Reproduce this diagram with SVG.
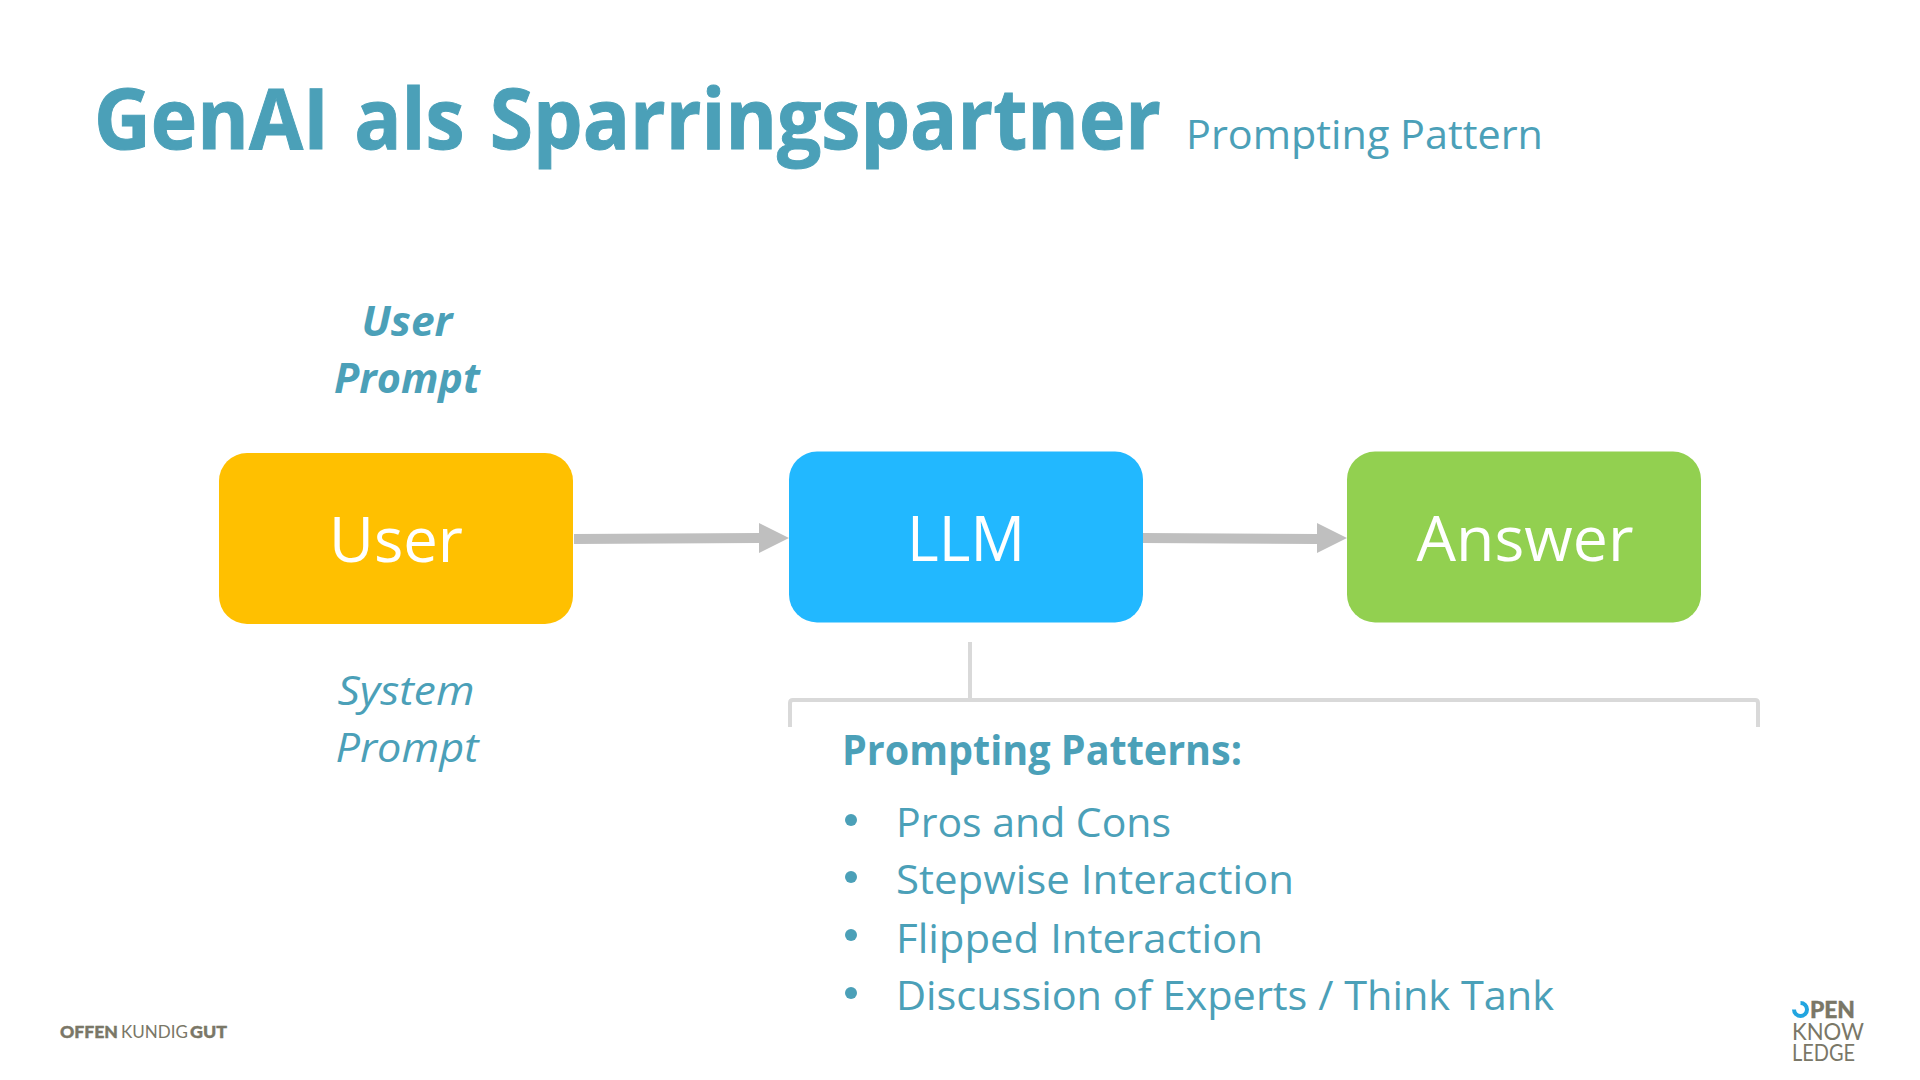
<svg xmlns="http://www.w3.org/2000/svg" width="1920" height="1080" viewBox="0 0 1920 1080">
<style>
text{font-family:"Open Sans",Lato,sans-serif;fill:#4BA0B8;font-variant-ligatures:none}
.box{font-size:63px;fill:#fff;text-anchor:middle}
.side{font-size:41px;font-style:italic;text-anchor:middle}
.list{font-size:41px}
.logo{font-family:Lato,sans-serif;fill:#7a7767}
.arrow{fill:#BFBFBF}
.br{fill:none;stroke:#D9D9D9;stroke-width:4}
</style>
<rect width="1920" height="1080" fill="#fff"/>
<g id="title">
<text x="94" y="149" font-size="84" font-weight="700" stroke="#4BA0B8" stroke-width="1" word-spacing="5" textLength="1067" lengthAdjust="spacingAndGlyphs">GenAI als Sparringspartner</text>
<text x="1186" y="149" font-size="41" textLength="357" lengthAdjust="spacingAndGlyphs">Prompting Pattern</text>
</g>
<g id="connectors">
<path class="arrow" d="M574 534L759 533V523L789 538L759 553V543L574 544Z"/>
<path class="arrow" d="M1143 533L1317 534V523L1347 538L1317 553V544L1143 543Z"/>
<path class="br" d="M970 642V700"/>
<path class="br" d="M790 727V703Q790 700 793 700H1755Q1758 700 1758 703V727"/>
</g>
<g id="node-user"><rect x="219" y="453" width="354" height="171" rx="28" fill="#FFC000"/><text class="box" x="396" y="562" textLength="134" lengthAdjust="spacingAndGlyphs">User</text></g>
<g id="node-llm"><rect x="789" y="451.5" width="354" height="171" rx="28" fill="#22B8FF"/><text class="box" x="966" y="561" textLength="118" lengthAdjust="spacingAndGlyphs">LLM</text></g>
<g id="node-answer"><rect x="1347" y="451.5" width="354" height="171" rx="28" fill="#92D050"/><text class="box" x="1525" y="561" textLength="217" lengthAdjust="spacingAndGlyphs">Answer</text></g>
<g id="label-user-prompt">
<text class="side" x="407" y="336" font-weight="700" textLength="91" lengthAdjust="spacingAndGlyphs">User</text>
<text class="side" x="407" y="393" font-weight="700" textLength="146" lengthAdjust="spacingAndGlyphs">Prompt</text>
</g>
<g id="label-system-prompt">
<text class="side" x="406" y="705" textLength="137" lengthAdjust="spacingAndGlyphs">System</text>
<text class="side" x="407" y="762" textLength="143" lengthAdjust="spacingAndGlyphs">Prompt</text>
</g>
<g id="patterns">
<text x="842" y="765" font-size="41" font-weight="700" textLength="400" lengthAdjust="spacingAndGlyphs">Prompting Patterns:</text>
<circle cx="851" cy="820" r="6" fill="#4BA0B8"/><circle cx="851" cy="877" r="6" fill="#4BA0B8"/><circle cx="851" cy="935" r="6" fill="#4BA0B8"/><circle cx="851" cy="993" r="6" fill="#4BA0B8"/>
<text class="list" x="896" y="837" textLength="275" lengthAdjust="spacingAndGlyphs">Pros and Cons</text>
<text class="list" x="896" y="894" textLength="398" lengthAdjust="spacingAndGlyphs">Stepwise Interaction</text>
<text class="list" x="896" y="953" textLength="367" lengthAdjust="spacingAndGlyphs">Flipped Interaction</text>
<text class="list" x="896" y="1010" textLength="658" lengthAdjust="spacingAndGlyphs">Discussion of Experts / Think Tank</text>
</g>
<g id="logo-left">
<text class="logo" x="60" y="1038" font-size="17.5" font-weight="900" stroke="#7a7767" stroke-width="0.4" textLength="58" lengthAdjust="spacingAndGlyphs">OFFEN</text>
<text class="logo" x="121" y="1038" font-size="17.5" font-weight="400" textLength="67" lengthAdjust="spacingAndGlyphs">KUNDIG</text>
<text class="logo" x="190" y="1038" font-size="17.5" font-weight="900" stroke="#7a7767" stroke-width="0.4" textLength="37" lengthAdjust="spacingAndGlyphs">GUT</text>
</g>
<g id="logo-right">
<path d="M1800.5 1003A6.5 6.5 0 1 1 1794 1009.5" fill="none" stroke="#22A5E0" stroke-width="4"/>
<text class="logo" x="1810" y="1018" font-size="22.5" font-weight="900" stroke="#7a7767" stroke-width="0.4" textLength="45" lengthAdjust="spacingAndGlyphs">PEN</text>
<text class="logo" x="1792" y="1040" font-size="23" font-weight="400" textLength="72" lengthAdjust="spacingAndGlyphs">KNOW</text>
<text class="logo" x="1792" y="1061" font-size="23" font-weight="400" textLength="63" lengthAdjust="spacingAndGlyphs">LEDGE</text>
</g>
</svg>
